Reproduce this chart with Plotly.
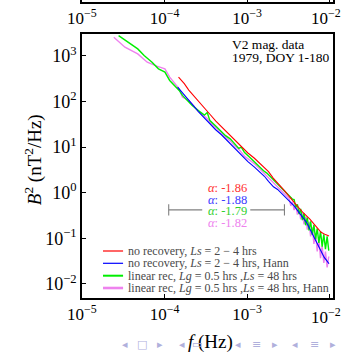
import numpy as np
import plotly.graph_objects as go

W, H = 344, 352

# ---------------- data (log10 f [Hz], log10 B^2 [nT^2/Hz]) ----------------
red_logf = [-3.830, -3.76, -3.706, -3.62, -3.532, -3.45, -3.378, -3.30, -3.224, -3.15,
            -3.068, -2.99, -2.914, -2.85, -2.798, -2.74, -2.683, -2.62, -2.55, -2.49,
            -2.44, -2.393, -2.32, -2.239, -2.17, -2.103, -2.05, -2.007]
red_logp = [2.535, 2.39, 2.25, 2.08, 1.89, 1.72, 1.57, 1.43, 1.29, 1.15,
            1.00, 0.87, 0.76, 0.65, 0.57, 0.46, 0.32, 0.20, 0.05, -0.08,
            -0.20, -0.29, -0.44, -0.58, -0.73, -0.87, -0.92, -0.95]

blue_logf = [-3.841, -3.78, -3.706, -3.65, -3.59, -3.52, -3.44, -3.38, -3.31, -3.23,
             -3.15, -3.07, -2.99, -2.91, -2.84, -2.79, -2.74, -2.68, -2.63, -2.59,
             -2.52, -2.47, -2.43, -2.36, -2.28, -2.22, -2.16, -2.11, -2.065, -2.03,
             -2.007]
blue_logp = [2.317, 2.18, 2.03, 1.91, 1.78, 1.64, 1.49, 1.38, 1.27, 1.12,
             0.98, 0.83, 0.68, 0.56, 0.44, 0.36, 0.25, 0.13, 0.07, 0.0,
             -0.14, -0.22, -0.29, -0.46, -0.65, -0.86, -1.09, -1.27, -1.42, -1.50,
             -1.56]

green_logf = [-4.556, -4.440, -4.324, -4.247, -4.151, -4.073, -3.995, -3.937, -3.879, -3.822,
              -3.783, -3.667, -3.59, -3.55, -3.517, -3.482, -3.45, -3.38, -3.32, -3.26,
              -3.204, -3.15, -3.10, -3.07, -3.03, -2.952, -2.90, -2.845, -2.80, -2.76,
              -2.70, -2.644, -2.59, -2.543, -2.50, -2.451,
              -2.43, -2.41, -2.39, -2.37, -2.35, -2.33, -2.31, -2.29, -2.27, -2.25,
              -2.23, -2.21, -2.19, -2.17, -2.15, -2.13, -2.11, -2.09, -2.07, -2.05,
              -2.03, -2.01]
green_logp = [3.443, 3.299, 3.153, 3.007, 2.862, 2.716, 2.644, 2.461, 2.352, 2.242,
              2.133, 1.915, 1.80, 1.74, 1.70, 1.76, 1.58, 1.46, 1.36, 1.25,
              1.18, 1.06, 0.97, 1.00, 0.88, 0.75, 0.66, 0.55, 0.48, 0.43,
              0.32, 0.22, 0.12, 0.03, -0.05, -0.14,
              -0.15, -0.323, -0.256, -0.469, -0.357, -0.60, -0.453, -0.715, -0.545, -0.825,
              -0.631, -0.924, -0.706, -1.019, -0.78, -1.10, -0.85, -1.184, -0.912, -1.24,
              -0.96, -1.27]

violet_logf = [-4.614, -4.479, -4.324, -4.209, -4.093, -3.995, -3.937, -3.822, -3.783, -3.706,
               -3.59, -3.55, -3.52, -3.48, -3.44, -3.38, -3.32, -3.26, -3.20, -3.15,
               -3.10, -3.03, -2.97, -2.90, -2.845, -2.79, -2.74, -2.68, -2.62, -2.56,
               -2.51,
               -2.49, -2.47, -2.45, -2.43, -2.41, -2.39, -2.37, -2.35, -2.33, -2.31,
               -2.29, -2.27, -2.25, -2.23, -2.21, -2.19, -2.17, -2.15, -2.13, -2.11,
               -2.09, -2.07, -2.05, -2.03, -2.01]
violet_logp = [3.408, 3.190, 3.044, 2.862, 2.775, 2.716, 2.535, 2.279, 2.098, 2.024,
               1.79, 1.73, 1.69, 1.62, 1.53, 1.44, 1.33, 1.22, 1.13, 1.03,
               0.95, 0.80, 0.72, 0.62, 0.52, 0.42, 0.31, 0.20, 0.10, -0.01,
               -0.10,
               -0.13, -0.29, -0.195, -0.38, -0.265, -0.48, -0.347, -0.585, -0.435, -0.695,
               -0.525, -0.81, -0.64, -0.96, -0.76, -1.125, -0.89, -1.29, -1.02, -1.435,
               -1.17, -1.54, -1.29, -1.64, -1.40]

# fit range marker (log10 f) and its level (log10 B^2)
fit_left = [-3.949, -3.543]
fit_right = [-2.961, -2.547]
fit_level = -0.378

alpha_labels = ["-1.86", "-1.88", "-1.79", "-1.82"]
series_names = [
    "no recovery, <i>Ls</i> = 2 \u2212 4 hrs",
    "no recovery, <i>Ls</i> = 2 \u2212 4 hrs, Hann",
    "linear rec, <i>Lg</i> = 0.5 hrs ,<i>Ls</i> = 48 hrs",
    "linear rec, <i>Lg</i> = 0.5 hrs ,<i>Ls</i> = 48 hrs, Hann",
]
colors = ["#ff0000", "#0000ff", "#00ee00", "#ee82ee"]
alpha_colors = ["#ff3030", "#3a3aff", "#30d030", "#ee82ee"]
line_widths = [1.1, 1.1, 1.4, 1.4]

x_tick_exp = [-5, -4, -3, -2]
y_tick_exp = [-2, -1, 0, 1, 2, 3]
edge_exp = -2   # its label touches the page edge: written right-aligned to the edge

SERIF = "Liberation Serif"


def px(x):
    return x / W


def py(y):
    return 1 - y / H


fig = go.Figure()

curves = [(red_logf, red_logp), (blue_logf, blue_logp),
          (green_logf, green_logp), (violet_logf, violet_logp)]
order = [3, 2, 1, 0]  # violet at the back, red on top
for i in order:
    lf, lp = curves[i]
    fig.add_trace(go.Scatter(
        x=10 ** np.array(lf), y=10 ** np.array(lp), mode="lines",
        line=dict(color=colors[i], width=line_widths[i]),
        showlegend=False, hoverinfo="skip"))

# fit range marker
fx = fit_left + [None] + fit_right
fy = [fit_level, fit_level, None, fit_level, fit_level]
fig.add_trace(go.Scatter(
    x=[10 ** v if v is not None else None for v in fx],
    y=[10 ** v if v is not None else None for v in fy],
    mode="lines", line=dict(color="#808080", width=1.1),
    showlegend=False, hoverinfo="skip"))
fig.add_trace(go.Scatter(
    x=[10 ** fit_left[0], 10 ** fit_right[1]], y=[10 ** fit_level] * 2,
    mode="markers", marker=dict(symbol="line-ns-open", size=8, color="#808080",
                                line=dict(color="#808080", width=1.1)),
    showlegend=False, hoverinfo="skip"))

# dummy trace for top strip axis
fig.add_trace(go.Scatter(x=[1e-5], y=[0], xaxis="x2", yaxis="y2",
                         mode="markers", marker=dict(opacity=0),
                         showlegend=False, hoverinfo="skip"))


def sup(e):
    return "10<sup>" + (("\u2212" + str(-e)) if e < 0 else str(e)) + "</sup>"


xtext = [sup(e) if e != edge_exp else "" for e in x_tick_exp]

TFX = 17
TFY = 18
xdom = [px(70), px(333)]
fig.update_layout(
    width=W, height=H,
    margin=dict(l=0, r=0, t=0, b=0),
    paper_bgcolor="white", plot_bgcolor="white",
    font=dict(family=SERIF, color="black", size=16),
    xaxis=dict(type="log", domain=xdom, range=[-5, -1.953],
               tickvals=[10 ** e for e in x_tick_exp], ticktext=xtext,
               ticks="inside", ticklen=4, tickwidth=1, tickcolor="black",
               showline=True, linecolor="black", linewidth=1.5, mirror=True,
               showgrid=False, zeroline=False, anchor="y",
               tickfont=dict(family=SERIF, size=TFX)),
    yaxis=dict(type="log", domain=[py(298), py(34)], range=[-2.31, 3.48],
               tickvals=[10 ** e for e in y_tick_exp],
               ticktext=[sup(e) for e in y_tick_exp],
               ticks="inside", ticklen=4, tickwidth=1, tickcolor="black",
               showline=True, linecolor="black", linewidth=1.5, mirror=True,
               showgrid=False, zeroline=False, anchor="x",
               tickfont=dict(family=SERIF, size=TFY)),
    xaxis2=dict(type="log", domain=xdom, range=[-5, -1.953],
                tickvals=[10 ** e for e in x_tick_exp], ticktext=xtext,
                ticks="inside", ticklen=4, tickwidth=1, tickcolor="black",
                showline=True, linecolor="black", linewidth=1.5, mirror=False,
                showgrid=False, zeroline=False, anchor="y2", side="bottom",
                tickfont=dict(family=SERIF, size=TFX)),
    yaxis2=dict(domain=[py(1.5), 1], range=[0, 1], showticklabels=False,
                ticks="", showline=True, linecolor="black", linewidth=1.5,
                mirror=True, showgrid=False, zeroline=False, anchor="x2"),
)

ann = []
# edge tick labels (bottom axis and top strip)
for yy in (315.5, 17.5):
    ann.append(dict(x=1, y=py(yy), xref="paper", yref="paper", xshift=-1,
                    text=sup(edge_exp), showarrow=False,
                    xanchor="right", yanchor="middle",
                    font=dict(family=SERIF, size=TFX, color="black")))
# axis titles
ann.append(dict(x=px(204), y=py(342), xref="paper", yref="paper",
                text="<i>f</i> (Hz)", showarrow=False,
                font=dict(family=SERIF, size=19, color="black"),
                xanchor="center", yanchor="middle"))
ann.append(dict(x=px(19), y=py(160), xref="paper", yref="paper",
                text="<i>B</i><sup>2</sup> (nT<sup>2</sup>/Hz)", showarrow=False,
                textangle=-90,
                font=dict(family=SERIF, size=19, color="black"),
                xanchor="center", yanchor="middle"))
# info text
ann.append(dict(x=px(225), y=py(44), xref="paper", yref="paper",
                text="V2 mag. data", showarrow=False, xanchor="left", yanchor="middle",
                font=dict(family=SERIF, size=13.5, color="black")))
ann.append(dict(x=px(225), y=py(57.5), xref="paper", yref="paper",
                text="1979, DOY 1-180", showarrow=False, xanchor="left", yanchor="middle",
                font=dict(family=SERIF, size=13.5, color="black")))
# alpha labels
alpha_y = [188, 199.7, 211.4, 223.1]
for lab, c, yy in zip(alpha_labels, alpha_colors, alpha_y):
    ann.append(dict(x=px(222), y=py(yy), xref="paper", yref="paper",
                    text="<i>\u03b1</i>: " + lab, showarrow=False,
                    xanchor="center", yanchor="middle",
                    font=dict(family=SERIF, size=12.5, color=c)))
# manual legend
leg_y = [251, 263.3, 275.7, 288]
shapes = []
for name, c, yy, lw in zip(series_names, colors, leg_y, [1.2, 1.2, 2.0, 2.6]):
    shapes.append(dict(type="line", xref="paper", yref="paper",
                       x0=px(92), x1=px(113), y0=py(yy), y1=py(yy),
                       line=dict(color=c, width=lw)))
    ann.append(dict(x=px(116), y=py(yy), xref="paper", yref="paper",
                    text=name, showarrow=False, xanchor="left", yanchor="middle",
                    font=dict(family=SERIF, size=12, color="#4a4a4a")))
# beamer navigation symbols
nav = [("\u25c2", 115), ("\u25a1", 133), ("\u25b8", 152),
       ("\u25c2", 175), ("\u25ad", 190),
       ("\u25c2", 233), ("\u2261", 253), ("\u25b8", 272),
       ("\u25c2", 293), ("\u2261", 313), ("\u25b8", 332)]
for ch, xx in nav:
    ann.append(dict(x=px(xx), y=py(344), xref="paper", yref="paper",
                    text=ch, showarrow=False, xanchor="center", yanchor="middle",
                    font=dict(family="DejaVu Sans", size=11, color="#b0b0dc")))

fig.update_layout(annotations=ann, shapes=shapes)
fig.write_html("out.html")
